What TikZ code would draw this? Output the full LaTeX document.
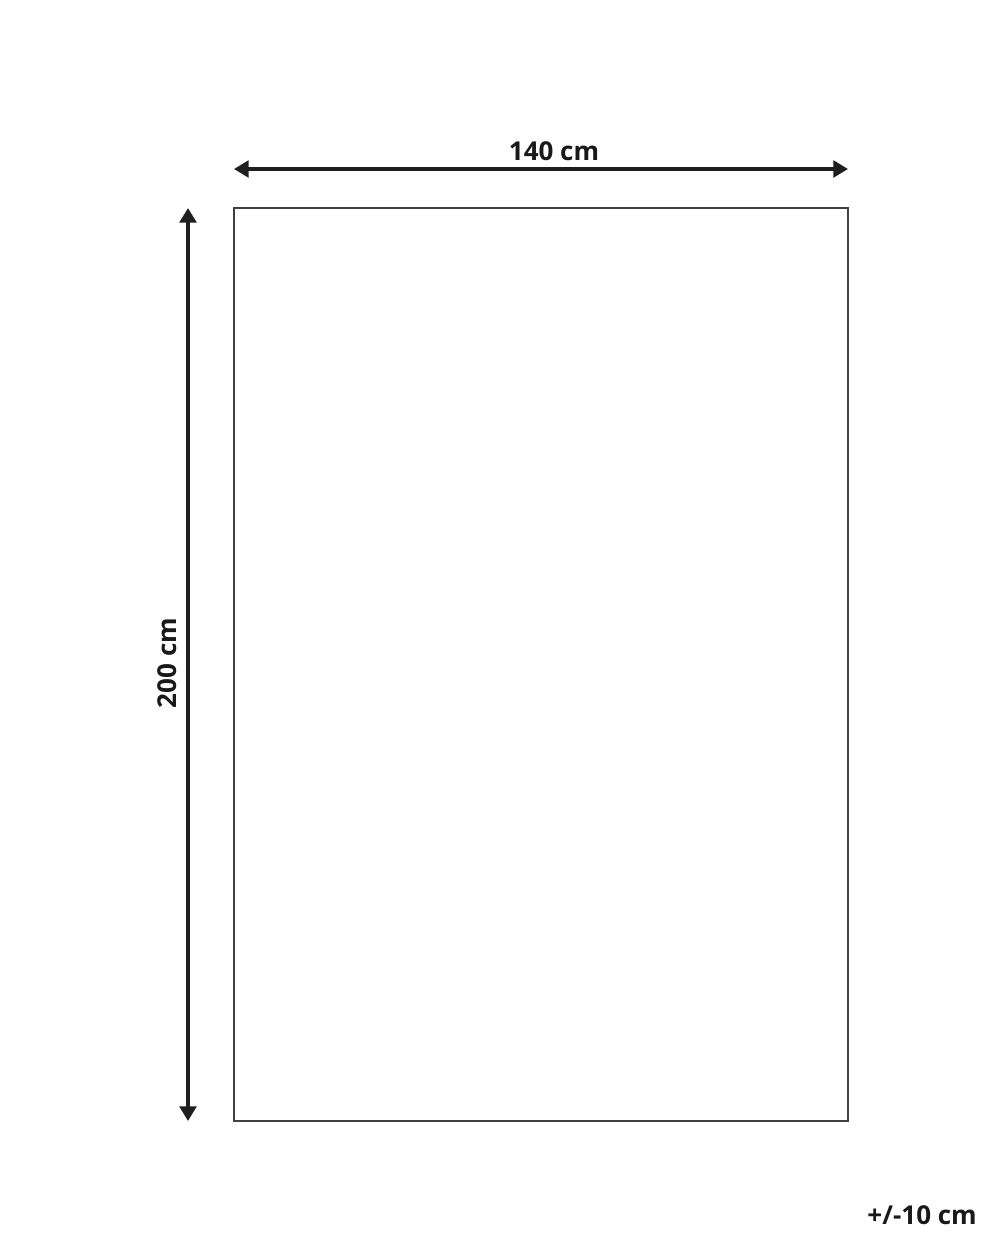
\documentclass[tikz,border=0pt]{standalone}
\usepackage{fontspec}
\setmainfont{Open Sans}
\usetikzlibrary{arrows.meta}
\tikzset{
  dimarrow/.style={line width=2.6pt, color=black!88, {Triangle[length=11pt,width=12.5pt]}-{Triangle[length=11pt,width=12.5pt]}},
  dimlabel/.style={inner sep=0pt, font=\fontsize{19.5}{22}\selectfont\bfseries, text=black!90}
}
\begin{document}
\begin{tikzpicture}[x=0.75pt,y=0.75pt,yscale=-1,xscale=1]
\useasboundingbox (0,0) rectangle (1000,1250);
% rug outline
\draw [line width=1pt, color=black!75] (234,208) rectangle (848,1121) ;
% dimension arrows
\coordinate (wl) at (234,169) ;
\coordinate (wr) at (848,169) ;
\coordinate (ht) at (188,208) ;
\coordinate (hb) at (188,1121) ;
\draw [dimarrow] (wl) -- (wr) ;
\draw [dimarrow] (ht) -- (hb) ;
% labels
\draw (554,160) node [anchor=base, dimlabel] (width) {140 cm};
\draw (176,663) node [anchor=base, rotate=90, dimlabel] (height) {200 cm};
\draw (977,1224) node [anchor=base east, dimlabel] (tol) {+/-10 cm};
\end{tikzpicture}
\end{document}
